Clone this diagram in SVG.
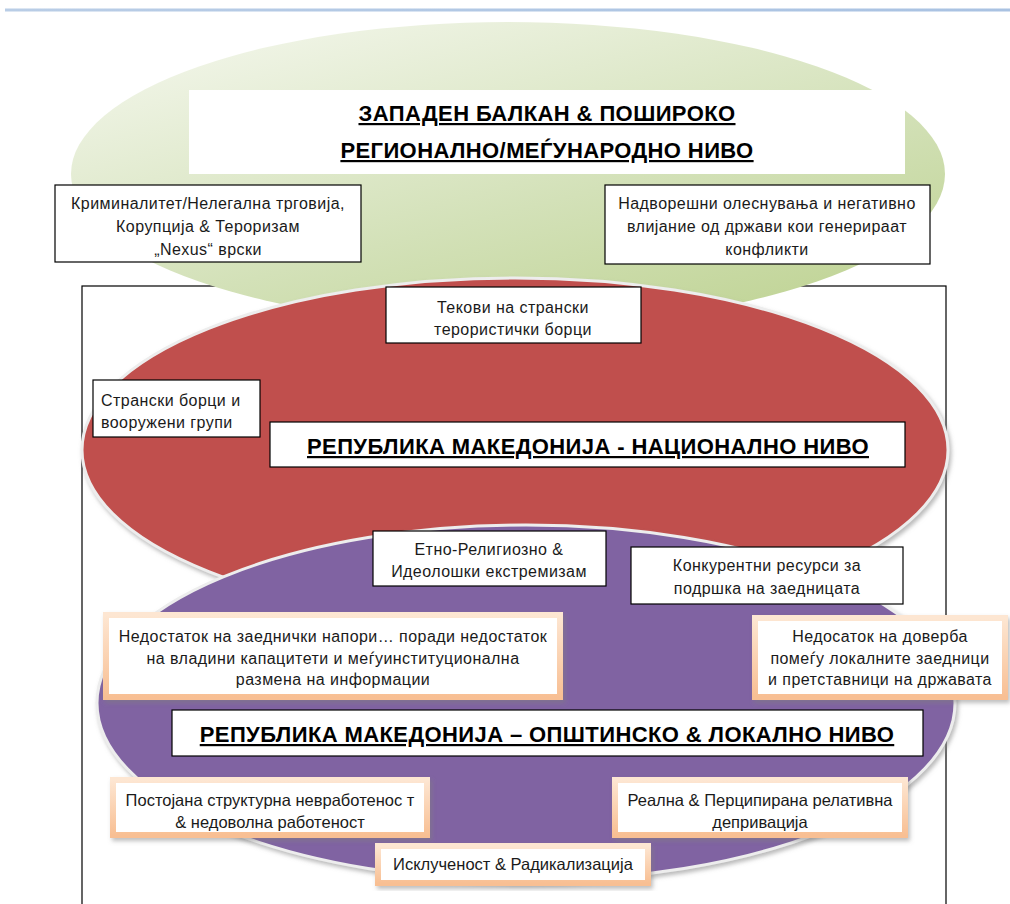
<svg xmlns="http://www.w3.org/2000/svg" width="1010" height="904" viewBox="0 0 1010 904">
<defs>
<linearGradient id="topline" x1="0" y1="0" x2="1" y2="0">
<stop offset="0" stop-color="#b9cde6"/>
<stop offset="1" stop-color="#a9c2e2"/>
</linearGradient>
<linearGradient id="green" x1="0.2" y1="0.1" x2="0.8" y2="0.9">
<stop offset="0" stop-color="#eef3e3"/>
<stop offset="0.6" stop-color="#d3e1b8"/>
<stop offset="1" stop-color="#c3d69b"/>
</linearGradient>
<linearGradient id="peach" x1="0" y1="0" x2="0" y2="1">
<stop offset="0" stop-color="#fde6d2"/>
<stop offset="1" stop-color="#f8bf93"/>
</linearGradient>
<filter id="sh" x="-10%" y="-10%" width="125%" height="130%">
<feDropShadow dx="2" dy="3" stdDeviation="2" flood-color="#7f7f7f" flood-opacity="0.5"/>
</filter>
<filter id="esh" x="-5%" y="-5%" width="112%" height="115%">
<feDropShadow dx="2" dy="3" stdDeviation="2" flood-color="#8c8c8c" flood-opacity="0.6"/>
</filter>
</defs>
<style>
text{font-family:"Liberation Sans",Arial,sans-serif;fill:#1a1a1a;text-anchor:middle}
.t{font-size:16px;letter-spacing:0.45px}
.n{font-size:16.5px}
.h{font-size:22px;font-weight:bold;text-decoration:underline;fill:#000;letter-spacing:0.4px}
.bx{fill:#fff;stroke:#000;stroke-width:1.2}
.ob{fill:#fff;stroke:url(#peach);stroke-width:6;filter:url(#sh)}
.l{text-anchor:start}
</style>
<rect x="5" y="8.5" width="1005" height="3" fill="url(#topline)"/>
<rect id="frame" x="82" y="286" width="864" height="640" fill="none" stroke="#000" stroke-width="1.2"/>
<g id="ellipses">
<ellipse id="regional" cx="508" cy="174" rx="437" ry="152" fill="url(#green)"/>
<ellipse id="national" cx="515" cy="450" rx="433" ry="172" fill="#c0504d" stroke="#ededed" stroke-width="3" filter="url(#esh)"/>
<ellipse id="local" cx="526" cy="703" rx="429" ry="178" fill="#8064a2" stroke="#ededed" stroke-width="3" filter="url(#esh)"/>
</g>
<g id="title">
<rect x="189" y="90" width="716" height="84" fill="#fff"/>
<text class="h" x="547" y="121">ЗАПАДЕН БАЛКАН &amp; ПОШИРОКО</text>
<text class="h" x="547" y="158">РЕГИОНАЛНО/МЕЃУНАРОДНО НИВО</text>
</g>
<g id="crime">
<rect class="bx" x="55" y="185" width="306" height="77"/>
<text class="t" x="208" y="209">Криминалитет/Нелегална трговија,</text>
<text class="t" x="208" y="232">Корупција &amp; Тероризам</text>
<text class="t" x="208" y="255">„Nexus“ врски</text>
</g>
<g id="external">
<rect class="bx" x="605" y="185" width="325" height="79"/>
<text class="t" x="767" y="209">Надворешни олеснувања и негативно</text>
<text class="t" x="767" y="232">влијание од држави кои генерираат</text>
<text class="t" x="767" y="255">конфликти</text>
</g>
<g id="flows">
<rect class="bx" x="386" y="287" width="255" height="56"/>
<text class="t" x="513" y="313">Текови на странски</text>
<text class="t" x="513" y="335">терористички борци</text>
</g>
<g id="fighters">
<rect class="bx" x="93" y="380" width="167" height="57"/>
<text class="t l" x="101" y="406">Странски борци и</text>
<text class="t l" x="101" y="428">вооружени групи</text>
</g>
<g id="national-label">
<rect class="bx" x="270" y="422" width="635" height="45"/>
<text class="h" x="588" y="454">РЕПУБЛИКА МАКЕДОНИЈА - НАЦИОНАЛНО НИВО</text>
</g>
<g id="ethno">
<rect class="bx" x="373" y="531" width="233" height="55"/>
<text class="t" x="489" y="555">Етно-Религиозно &amp;</text>
<text class="t" x="489" y="577">Идеолошки екстремизам</text>
</g>
<g id="resources">
<rect class="bx" x="631" y="547" width="272" height="57"/>
<text class="t" x="767" y="571">Конкурентни ресурси за</text>
<text class="t" x="767" y="594">подршка на заедницата</text>
</g>
<g id="joint">
<rect class="ob" x="106" y="615" width="454" height="82"/>
<text class="t" x="333" y="642">Недостаток на заеднички напори… поради недостаток</text>
<text class="t" x="333" y="664">на владини капацитети и  меѓуинституционална</text>
<text class="t" x="333" y="685">размена на информации</text>
</g>
<g id="trust">
<rect class="ob" x="755" y="618" width="250" height="79"/>
<text class="t" x="880" y="642">Недосаток на доверба</text>
<text class="t" x="880" y="664">помеѓу локалните заедници</text>
<text class="t" x="880" y="685">и претставници на државата</text>
</g>
<g id="local-label">
<rect class="bx" x="172" y="710" width="751" height="46"/>
<text class="h" x="547" y="742">РЕПУБЛИКА МАКЕДОНИЈА – ОПШТИНСКО &amp; ЛОКАЛНО НИВО</text>
</g>
<g id="unemployment">
<rect class="ob" x="113" y="780" width="314" height="55"/>
<text class="n" x="270" y="806">Постојана структурна невработенос т</text>
<text class="n" x="270" y="828">&amp; недоволна работеност</text>
</g>
<g id="deprivation">
<rect class="ob" x="615" y="780" width="290" height="55"/>
<text class="n" x="760" y="806">Реална &amp; Перципирана релативна</text>
<text class="n" x="760" y="828">депривација</text>
</g>
<g id="exclusion">
<rect class="ob" x="378" y="846" width="270" height="37"/>
<text class="n" x="513" y="870">Исклученост &amp; Радикализација</text>
</g>
</svg>
